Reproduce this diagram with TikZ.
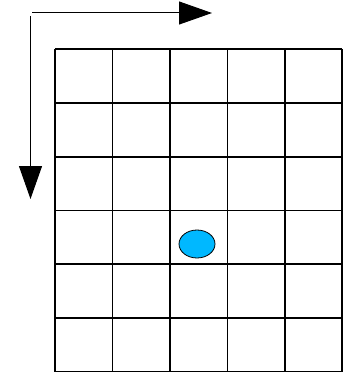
\documentclass[tikz,border=0pt]{standalone}
\usetikzlibrary{arrows.meta,shapes.geometric}
\definecolor{dotblue}{HTML}{00B8FF}
\begin{document}
\begin{tikzpicture}[x=1pt,y=-1pt,
  gridline/.style={line width=1.6pt,black},
  dirarrow/.style={line width=1pt,-{Triangle[length=33pt,width=23pt]}},
  marker/.style={ellipse,draw=black,line width=0.8pt,fill=dotblue,minimum width=36pt,minimum height=28pt,inner sep=0pt}]
\useasboundingbox (0,0) rectangle (346,374);
% grid
\foreach \x in {55,112.5,170,227.5,285,342} \draw[gridline] (\x,49) -- (\x,371.5);
\foreach \y in {49,103,157,210.5,264,318,371.5} \draw[gridline] (55,\y) -- (342,\y);
% arrows
\coordinate (hs) at (32,13);
\coordinate (he) at (212,13);
\coordinate (vs) at (30.5,16);
\coordinate (ve) at (30.5,199);
\draw[dirarrow] (hs) -- (he);
\draw[dirarrow] (vs) -- (ve);
% marker
\node[marker] (dot) at (197,244) {};
\end{tikzpicture}
\end{document}
